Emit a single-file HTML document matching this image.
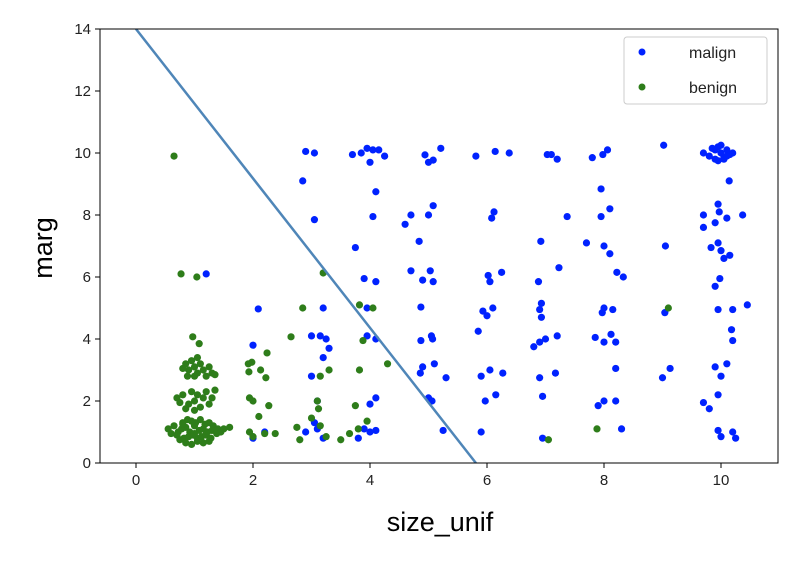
<!DOCTYPE html>
<html><head><meta charset="utf-8">
<style>
body{margin:0;background:#fff;}
svg text{font-family:"Liberation Sans","DejaVu Sans",sans-serif;}
</style></head>
<body>
<svg id="chart" width="806" height="556" viewBox="0 0 806 556" xmlns="http://www.w3.org/2000/svg">
<rect x="0" y="0" width="806" height="556" fill="#fff"/>
<g id="marks"></g>
<rect x="100" y="29" width="678" height="434" fill="none" stroke="#000" stroke-width="1"/>
<g id="axes"></g>
<text x="440" y="531" font-size="27" text-anchor="middle" fill="#000">size_unif</text>
<text x="52" y="248" font-size="27" text-anchor="middle" fill="#000" transform="rotate(-90 52 248)">marg</text>
<g>
<rect x="624" y="37" width="143" height="67" rx="3" fill="#fff" stroke="#ccc"/>
<circle cx="642" cy="52" r="3.5" fill="#0022ff"/>
<text x="689" y="58" font-size="16" fill="#222">malign</text>
<circle cx="642" cy="87" r="3.5" fill="#2e7d1a"/>
<text x="689" y="93" font-size="16" fill="#222">benign</text>
</g>
</svg>
<script>
const xTicks=[0,2,4,6,8,10];
const yTicks=[0,2,4,6,8,10,12,14];
const lineX=[0,5.81];
const lineY=[14,0];
const malignX=[1.2,2.09,2.0,2.2,2.0,2.85,2.9,3.05,3.05,3.2,3.0,3.15,3.25,3.3,3.2,3.1,3.0,2.9,3.1,3.2,3.05,
3.7,3.85,3.95,4.05,4.15,4.25,4.0,4.1,4.05,3.75,3.9,4.1,3.95,3.95,4.1,4.1,4.0,4.0,4.1,3.8,3.9,
4.94,5.08,5.21,5.0,5.08,5.0,4.7,4.6,4.84,4.7,5.03,4.9,5.08,4.87,4.87,5.05,5.07,4.9,5.1,4.86,5.3,5.0,5.06,5.25,
5.81,6.14,6.38,6.12,6.08,6.02,6.25,6.05,5.93,6.1,6.0,5.85,5.9,6.05,6.27,5.97,6.15,5.9,
7.03,7.1,7.2,7.37,6.92,7.23,6.88,6.93,6.9,6.93,7.2,7.0,6.9,6.8,6.9,7.17,6.95,6.95,
7.8,7.98,8.06,7.95,8.1,7.95,7.7,8.0,8.1,8.22,8.33,8.0,8.15,7.97,7.85,8.0,8.12,8.2,8.2,7.9,8.0,8.2,8.3,
9.02,9.05,9.04,9.13,9.0,
9.7,9.8,9.9,9.95,10.0,10.05,10.1,10.15,10.2,9.85,9.95,10.05,10.0,10.1,9.9,10.14,9.95,9.7,9.97,10.1,9.9,9.7,10.37,9.95,9.83,10.0,10.15,10.05,9.98,9.9,9.95,10.2,10.45,10.18,10.2,9.9,10.1,10.0,9.95,9.7,9.8,9.95,10.2,10.0,10.25];
const malignY=[6.1,4.97,3.8,1.0,0.8,9.1,10.05,10.0,7.85,5.0,4.1,4.1,4.0,3.7,3.4,2.0,2.8,1.0,1.1,0.8,1.3,
9.95,10.0,10.15,10.1,10.1,9.9,9.7,8.75,7.95,6.95,5.95,5.85,5.0,4.1,4.0,2.1,1.9,1.0,1.05,0.8,1.1,
9.94,9.77,10.15,9.7,8.3,8.0,8.0,7.7,7.15,6.2,6.2,5.9,5.85,5.03,3.95,4.1,4.0,3.1,3.2,2.9,2.75,2.1,2.0,1.05,
9.9,10.05,10.0,8.1,7.9,6.05,6.15,5.85,4.9,5.0,4.75,4.25,2.8,3.0,2.9,2.0,2.2,1.0,
9.95,9.95,9.8,7.95,7.15,6.3,5.85,5.15,4.95,4.7,4.1,4.0,3.9,3.75,2.75,2.9,2.15,0.8,
9.85,9.95,10.1,8.84,8.2,7.95,7.1,7.0,6.75,6.15,6.0,5.0,4.95,4.85,4.05,3.9,4.15,3.9,3.05,1.85,2.0,2.0,1.1,
10.25,7.0,4.85,3.05,2.75,
10.0,9.9,10.1,10.2,10.0,9.85,10.1,9.95,10.0,10.15,9.75,9.8,10.25,9.9,9.8,9.1,8.35,8.0,8.1,7.9,7.75,7.6,8.0,7.1,6.95,6.85,6.7,6.6,5.95,5.7,4.95,4.95,5.1,4.3,3.95,3.1,3.2,2.8,2.2,1.95,1.75,1.05,1.0,0.85,0.8];
const benignX=[0.65,0.77,1.04,3.2,2.85,4.05,3.82,0.97,1.08,2.65,2.24,3.88,4.3,3.3,3.82,3.15,2.22,2.13,1.93,1.98,1.92,3.1,3.12,3.75,2.1,2.27,1.94,2.0,1.6,3.5,3.65,2.75,2.8,3.0,3.15,3.25,3.95,3.8,2.38,1.94,2.0,2.2,9.1,7.05,7.88,
0.85,0.9,0.95,1.0,1.05,1.1,1.15,1.2,1.25,1.3,0.88,1.0,1.35,1.05,0.8,
0.7,0.8,0.9,0.95,1.0,1.05,1.1,1.15,1.2,1.25,1.3,1.35,0.85,1.0,0.75,
0.55,0.65,0.72,0.8,0.88,0.95,1.02,1.1,1.18,1.25,1.32,1.4,0.7,0.78,0.85,0.92,1.0,1.08,1.15,1.22,1.3,1.38,0.75,0.82,0.9,0.98,1.05,1.12,1.2,1.28,0.85,0.95,1.05,1.15,1.25,0.8,1.0,1.2,0.6,1.45,1.5];
const benignY=[9.9,6.1,6.0,6.13,5.0,5.0,5.1,4.07,3.85,4.07,3.55,3.95,3.2,3.0,3.0,2.8,2.75,3.0,2.94,3.25,3.2,2.0,1.75,1.85,1.5,1.85,2.1,2.0,1.15,0.75,0.95,1.15,0.75,1.45,1.2,0.85,1.35,1.1,0.95,1.0,0.85,0.95,5.0,0.75,1.1,
3.2,3.0,3.3,3.1,2.9,3.2,3.0,2.8,3.1,2.9,2.8,2.8,2.85,3.4,3.05,
2.1,2.2,1.9,2.3,2.0,2.2,1.8,2.1,2.3,1.9,2.1,2.35,1.75,1.7,1.95,
1.1,1.2,1.0,1.3,1.4,1.35,1.3,1.4,1.25,1.3,1.2,1.1,0.9,1.1,1.15,1.0,1.2,1.05,1.1,1.0,1.05,0.95,0.75,0.8,0.85,0.9,0.8,0.85,0.9,0.8,0.65,0.6,0.7,0.65,0.7,1.25,0.95,0.95,0.95,1.0,1.1];

const NS="http://www.w3.org/2000/svg";
const X0=100,X1=778,Y0=29,Y1=463;
function sx(v){return 136+v*58.5;}
function sy(v){return 463-v*31;}
const marks=document.getElementById('marks');
const axes=document.getElementById('axes');
function mk(t,a,p){const e=document.createElementNS(NS,t);for(const k in a)e.setAttribute(k,a[k]);p.appendChild(e);return e;}
xTicks.forEach(v=>{
  const l=mk('line',{x1:sx(v),x2:sx(v),y1:Y1,y2:Y1+5,stroke:'#000'},axes);
  
  
  const t=mk('text',{x:sx(v),y:Y1+22,'font-size':15,'text-anchor':'middle',fill:'#222'},axes);
  t.textContent=v;
  
  
});
yTicks.forEach(v=>{
  const l=mk('line',{x1:X0-5,x2:X0,y1:sy(v),y2:sy(v),stroke:'#000'},axes);
  
  
  const t=mk('text',{x:X0-9,y:sy(v)+5,'font-size':15,'text-anchor':'end',fill:'#222'},axes);
  t.textContent=v;
  
  
});
const cp=mk('clipPath',{id:'clip'},marks);
mk('rect',{x:X0,y:Y0,width:X1-X0,height:Y1-Y0},cp);
const g=mk('g',{'clip-path':'url(#clip)'},marks);
malignX.forEach((x,i)=>{
  const c=mk('circle',{cx:sx(x),cy:sy(malignY[i]),r:3.6,fill:'#0022ff'},g);
  
  
});
benignX.forEach((x,i)=>{
  const c=mk('circle',{cx:sx(x),cy:sy(benignY[i]),r:3.6,fill:'#2e7d1a'},g);
  
  
});
const ln=mk('line',{x1:sx(lineX[0]),y1:sy(lineY[0]),x2:sx(lineX[1]),y2:sy(lineY[1]),stroke:'#4f86b8','stroke-width':2.5},g);


</script>
</body></html>
